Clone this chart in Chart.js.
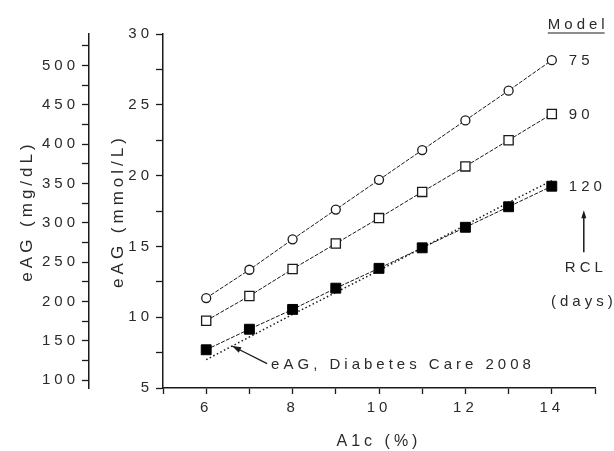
<!DOCTYPE html>
<html>
<head>
<meta charset="utf-8">
<script src="https://cdn.jsdelivr.net/npm/chart.js@4/dist/chart.umd.min.js"></script>
<style>
  html, body { margin: 0; padding: 0; background: #fff; }
  canvas { display: block; }
</style>
</head>
<body>
<canvas id="c" width="614" height="451"></canvas>
<script>
// A1c (%) on the x axis
var a1c = [6, 7, 8, 9, 10, 11, 12, 13, 14];
// model eAG (mmol/L) for red cell lifespan 75, 90, 120 days
var rcl75 = [11.35, 13.35, 15.5, 17.6, 19.7, 21.8, 23.9, 26.0, 28.15];
var rcl90 = [9.75, 11.5, 13.4, 15.2, 17.0, 18.85, 20.65, 22.5, 24.35];
var rcl120 = [7.7, 9.15, 10.55, 12.05, 13.45, 14.9, 16.35, 17.8, 19.25];
// eAG, Diabetes Care 2008 (dotted)
var eag2008 = [7.0, 8.6, 10.2, 11.75, 13.3, 14.9, 16.5, 18.1, 19.65];
var seriesNames = ['75', '90', '120'];
// mg/dL axis tick marks (labels on every other one)
var mgTicks = [100, 125, 150, 175, 200, 225, 250, 275, 300, 325, 350, 375, 400, 425, 450, 475, 500, 525];

var ink = '#1a1a1a';
var txt = '#2a2a2a';
var FONT = "'Liberation Sans', Arial, sans-serif";

function pts(ys) {
    var out = [];
    for (var i = 0; i < a1c.length; i++) out.push({ x: a1c[i], y: ys[i] });
    return out;
}

// wide letter spacing like the original figure
var spacing = {
    id: 'spacing',
    beforeUpdate: function (c) { c.ctx.letterSpacing = '4px'; },
    beforeLayout: function (c) { c.ctx.letterSpacing = '4px'; },
    beforeDraw: function (c) { c.ctx.letterSpacing = '4px'; }
};

var notes = {
    id: 'notes',
    afterDraw: function (c) {
        var ctx = c.ctx;
        var xs = c.scales.x, ys = c.scales.y;
        ctx.save();
        ctx.letterSpacing = '4px';
        ctx.fillStyle = txt;
        ctx.strokeStyle = ink;
        ctx.font = '15px ' + FONT;
        ctx.textAlign = 'left';
        ctx.textBaseline = 'middle';

        var x14 = xs.getPixelForValue(14);
        var lasts = [rcl75[8], rcl90[8], rcl120[8]];
        for (var i = 0; i < 3; i++) {
            ctx.fillText(seriesNames[i], x14 + 17, ys.getPixelForValue(lasts[i]) + 1);
        }

        // "Model" header, underlined
        var top = c.chartArea.top;
        ctx.fillText('Model', x14 - 4, top - 9);
        var w = ctx.measureText('Model').width - 4;
        ctx.lineWidth = 1;
        ctx.beginPath();
        ctx.moveTo(x14 - 4, top - 1);
        ctx.lineTo(x14 - 4 + w, top - 1);
        ctx.stroke();

        // RCL arrow
        var ax = x14 + 32;
        var ay0 = ys.getPixelForValue(rcl120[8]) + 24;
        var ay1 = ay0 + 42;
        ctx.lineWidth = 1.5;
        ctx.beginPath();
        ctx.moveTo(ax, ay1);
        ctx.lineTo(ax, ay0 + 4);
        ctx.stroke();
        ctx.beginPath();
        ctx.moveTo(ax, ay0);
        ctx.lineTo(ax - 2.5, ay0 + 8);
        ctx.lineTo(ax + 2.5, ay0 + 8);
        ctx.closePath();
        ctx.fillStyle = ink;
        ctx.fill();
        ctx.fillStyle = txt;
        ctx.textAlign = 'center';
        ctx.fillText('RCL', ax + 2, ay1 + 16);
        ctx.fillText('(days)', ax, ay1 + 50);

        // eAG leader line
        var tx = xs.getPixelForValue(6.6), ty = ys.getPixelForValue(7.97);
        var fx = xs.getPixelForValue(7.41), fy = ys.getPixelForValue(6.72);
        ctx.lineWidth = 1.2;
        ctx.beginPath();
        ctx.moveTo(fx, fy);
        ctx.lineTo(tx, ty);
        ctx.stroke();
        var ang = Math.atan2(ty - fy, tx - fx);
        ctx.beginPath();
        ctx.moveTo(tx, ty);
        ctx.lineTo(tx - 9 * Math.cos(ang) + 3 * Math.sin(ang), ty - 9 * Math.sin(ang) - 3 * Math.cos(ang));
        ctx.lineTo(tx - 9 * Math.cos(ang) - 3 * Math.sin(ang), ty - 9 * Math.sin(ang) + 3 * Math.cos(ang));
        ctx.closePath();
        ctx.fillStyle = ink;
        ctx.fill();
        ctx.fillStyle = txt;
        ctx.textAlign = 'left';
        ctx.fillText('eAG, Diabetes Care 2008', fx + 4, fy + 1);
        ctx.restore();
    }
};

var axisGrid = {
    display: true,
    drawOnChartArea: false,
    drawTicks: true,
    tickLength: 7,
    tickColor: ink,
    tickWidth: 1.3
};

new Chart(document.getElementById('c'), {
    type: 'line',
    data: {
        datasets: [{
            label: '75',
            data: pts(rcl75),
            borderColor: ink,
            borderWidth: 1,
            borderDash: [4, 1.5],
            pointStyle: 'circle',
            pointRadius: 4.5,
            pointBackgroundColor: '#fff',
            pointBorderColor: ink,
            pointBorderWidth: 1.3
        }, {
            label: '90',
            data: pts(rcl90),
            borderColor: ink,
            borderWidth: 1,
            borderDash: [4, 1.5],
            pointStyle: 'rect',
            pointRadius: 6.5,
            pointBackgroundColor: '#fff',
            pointBorderColor: ink,
            pointBorderWidth: 1.3
        }, {
            label: '120',
            data: pts(rcl120),
            borderColor: ink,
            borderWidth: 1,
            borderDash: [4, 1.5],
            pointStyle: 'rect',
            pointRadius: 7,
            pointBackgroundColor: '#000',
            pointBorderColor: '#000',
            pointBorderWidth: 1
        }, {
            label: 'eAG, Diabetes Care 2008',
            data: pts(eag2008),
            borderColor: ink,
            borderWidth: 1.5,
            borderDash: [1.5, 2.5],
            pointRadius: 0
        }]
    },
    options: {
        responsive: false,
        animation: false,
        devicePixelRatio: 1,
        layout: { padding: { top: 34, right: 19, bottom: 0, left: 0 } },
        plugins: {
            legend: { display: false },
            tooltip: { enabled: false }
        },
        elements: { line: { tension: 0 } },
        scales: {
            x: {
                type: 'linear',
                min: 5,
                max: 15,
                grid: Object.assign({}, axisGrid, { tickLength: 6 }),
                border: { display: true, color: ink, width: 1.5 },
                ticks: {
                    stepSize: 1,
                    padding: 5,
                    color: txt,
                    font: { family: FONT, size: 15 },
                    maxRotation: 0,
                    autoSkip: false,
                    callback: function (v) { return (v % 2 === 0 && v >= 6 && v <= 14) ? String(v) : ''; }
                },
                title: {
                    display: true,
                    text: 'A1c (%)',
                    color: txt,
                    font: { family: FONT, size: 16 },
                    padding: { top: 0, bottom: 0 }
                },
                afterFit: function (s) { s.height = 63; }
            },
            y: {
                type: 'linear',
                position: 'left',
                weight: 0,
                min: 5,
                max: 30,
                grid: axisGrid,
                border: { display: true, color: ink, width: 1.5 },
                ticks: {
                    stepSize: 2.5,
                    padding: 3,
                    color: txt,
                    font: { family: FONT, size: 15 },
                    autoSkip: false,
                    callback: function (v) { return v % 5 === 0 ? String(v) : ''; }
                },
                title: {
                    display: true,
                    text: 'eAG (mmol/L)',
                    color: txt,
                    font: { family: FONT, size: 17 },
                    padding: { top: 19, bottom: 0 }
                },
                afterFit: function (s) { s.width = 74; }
            },
            y2: {
                type: 'linear',
                position: 'left',
                weight: 1,
                min: 90,
                max: 540,
                grid: axisGrid,
                border: { display: true, color: ink, width: 1.5 },
                ticks: {
                    padding: 3,
                    color: txt,
                    font: { family: FONT, size: 15 },
                    autoSkip: false,
                    callback: function (v) { return v % 50 === 0 ? String(v) : ''; }
                },
                afterBuildTicks: function (s) {
                    s.ticks = mgTicks.map(function (v) { return { value: v }; });
                },
                title: {
                    display: true,
                    text: 'eAG (mg/dL)',
                    color: txt,
                    font: { family: FONT, size: 17 },
                    padding: { top: 17, bottom: 0 }
                },
                afterFit: function (s) { s.width = 89; }
            }
        }
    },
    plugins: [spacing, notes]
});
</script>
</body>
</html>
